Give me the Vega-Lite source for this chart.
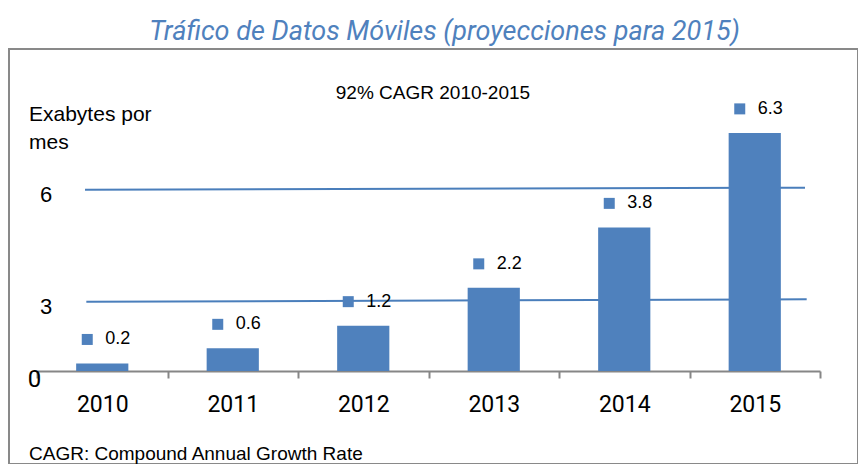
{
  "$schema": "https://vega.github.io/schema/vega-lite/v6.json",
  "width": 849,
  "height": 415,
  "autosize": {"type": "none"},
  "padding": {"left": 9, "top": 49, "right": 0, "bottom": 0},
  "background": "white",
  "view": {"stroke": "#898989", "strokeWidth": 2},
  "config": {"font": "Liberation Sans", "text": {"font": "Liberation Sans", "color": "black"}},
  "title": {
    "text": "Tráfico de Datos Móviles (proyecciones para 2015)",
    "font": "Roboto",
    "fontStyle": "italic",
    "fontWeight": "normal",
    "fontSize": 27,
    "color": "#4F81BD",
    "anchor": "middle",
    "frame": "group",
    "baseline": "alphabetic",
    "offset": 10,
    "dy": 28,
    "dx": 11
  },
  "datasets": {
    "traffic": [
      {"year": "2010", "exabytes": 0.2},
      {"year": "2011", "exabytes": 0.6},
      {"year": "2012", "exabytes": 1.2},
      {"year": "2013", "exabytes": 2.2},
      {"year": "2014", "exabytes": 3.8},
      {"year": "2015", "exabytes": 6.3}
    ],
    "gridlines": [
      {"level": "6", "x_start": 0.368, "x_end": 5.885, "y_start": 4.796, "y_end": 4.849},
      {"level": "3", "x_start": 0.378, "x_end": 5.898, "y_start": 1.833, "y_end": 1.897}
    ],
    "yLabels": [
      {"label": "6", "x": 0.069, "y": 4.656},
      {"label": "3", "x": 0.069, "y": 1.706}
    ],
    "zeroLabel": [
      {"label": "0", "x": -0.02, "y": -0.238}
    ],
    "yTitle": [
      {"text": "Exabytes por", "x": -0.0613, "y": 6.772},
      {"text": "mes", "x": -0.0613, "y": 6.032}
    ],
    "subtitle": [
      {"text": "92% CAGR 2010-2015", "x": 3.034, "y": 7.354}
    ],
    "footnote": [
      {"text": "CAGR: Compound Annual Growth Rate", "x": -0.0613, "y": -2.354}
    ]
  },
  "resolve": {"scale": {"x": "independent"}},
  "layer": [
    {
      "layer": [
        {
          "data": {"name": "gridlines"},
          "mark": {"type": "rule", "color": "#4A7EBB", "strokeWidth": 2},
          "encoding": {
            "x": {"field": "x_start", "type": "quantitative", "scale": {"domain": [0, 6], "range": [28, 811], "nice": false, "zero": false}, "axis": null},
            "x2": {"field": "x_end"},
            "y": {"field": "y_start", "type": "quantitative", "scale": {"domain": [-2.46, 8.519], "nice": false, "zero": false}, "axis": null},
            "y2": {"field": "y_end"}
          }
        },
        {
          "data": {"name": "yLabels"},
          "mark": {"type": "text", "align": "center", "baseline": "middle", "fontSize": 22},
          "encoding": {
            "x": {"field": "x", "type": "quantitative", "scale": {"domain": [0, 6], "range": [28, 811], "nice": false, "zero": false}, "axis": null},
            "y": {"field": "y", "type": "quantitative", "scale": {"domain": [-2.46, 8.519], "nice": false, "zero": false}, "axis": null},
            "text": {"field": "label"}
          }
        },
        {
          "data": {"name": "zeroLabel"},
          "mark": {"type": "text", "align": "center", "baseline": "middle", "font": "Roboto", "fontSize": 24},
          "encoding": {
            "x": {"field": "x", "type": "quantitative", "scale": {"domain": [0, 6], "range": [28, 811], "nice": false, "zero": false}, "axis": null},
            "y": {"field": "y", "type": "quantitative", "scale": {"domain": [-2.46, 8.519], "nice": false, "zero": false}, "axis": null},
            "text": {"field": "label"}
          }
        },
        {
          "data": {"name": "yTitle"},
          "mark": {"type": "text", "align": "left", "baseline": "middle", "fontSize": 21},
          "encoding": {
            "x": {"field": "x", "type": "quantitative", "scale": {"domain": [0, 6], "range": [28, 811], "nice": false, "zero": false}, "axis": null},
            "y": {"field": "y", "type": "quantitative", "scale": {"domain": [-2.46, 8.519], "nice": false, "zero": false}, "axis": null},
            "text": {"field": "text"}
          }
        },
        {
          "data": {"name": "subtitle"},
          "mark": {"type": "text", "align": "center", "baseline": "middle", "fontSize": 19},
          "encoding": {
            "x": {"field": "x", "type": "quantitative", "scale": {"domain": [0, 6], "range": [28, 811], "nice": false, "zero": false}, "axis": null},
            "y": {"field": "y", "type": "quantitative", "scale": {"domain": [-2.46, 8.519], "nice": false, "zero": false}, "axis": null},
            "text": {"field": "text"}
          }
        },
        {
          "data": {"name": "footnote"},
          "mark": {"type": "text", "align": "left", "baseline": "alphabetic", "fontSize": 19},
          "encoding": {
            "x": {"field": "x", "type": "quantitative", "scale": {"domain": [0, 6], "range": [28, 811], "nice": false, "zero": false}, "axis": null},
            "y": {"field": "y", "type": "quantitative", "scale": {"domain": [-2.46, 8.519], "nice": false, "zero": false}, "axis": null},
            "text": {"field": "text"}
          }
        }
      ]
    },
    {
      "data": {"name": "traffic"},
      "layer": [
        {
          "mark": {"type": "bar", "color": "#4F81BD", "width": {"band": 0.4}},
          "encoding": {
            "x": {
              "field": "year", "type": "ordinal",
              "scale": {"range": [28, 811], "paddingInner": 0, "paddingOuter": 0},
              "axis": {
                "title": null, "labelAngle": 0, "labelFont": "Roboto", "labelFontSize": 23,
                "labelColor": "black", "labelPadding": 15, "domainColor": "#868686", "domainWidth": 2,
                "tickColor": "#868686", "tickWidth": 2, "tickSize": 7, "tickBand": "extent", "offset": -93
              }
            },
            "y": {"field": "exabytes", "type": "quantitative", "scale": {"domain": [-2.46, 8.519], "nice": false, "zero": false}, "axis": null},
            "y2": {"datum": 0}
          }
        },
        {
          "mark": {"type": "point", "shape": "square", "filled": true, "size": 121, "color": "#4F81BD", "opacity": 1, "xOffset": -15, "yOffset": -24},
          "encoding": {
            "x": {"field": "year", "type": "ordinal"},
            "y": {"field": "exabytes", "type": "quantitative", "scale": {"domain": [-2.46, 8.519], "nice": false, "zero": false}, "axis": null}
          }
        },
        {
          "mark": {"type": "text", "align": "left", "baseline": "middle", "dx": 3, "dy": -24, "fontSize": 18},
          "encoding": {
            "x": {"field": "year", "type": "ordinal"},
            "y": {"field": "exabytes", "type": "quantitative", "scale": {"domain": [-2.46, 8.519], "nice": false, "zero": false}, "axis": null},
            "text": {"field": "exabytes", "type": "quantitative", "format": ".1f"}
          }
        }
      ]
    }
  ]
}
